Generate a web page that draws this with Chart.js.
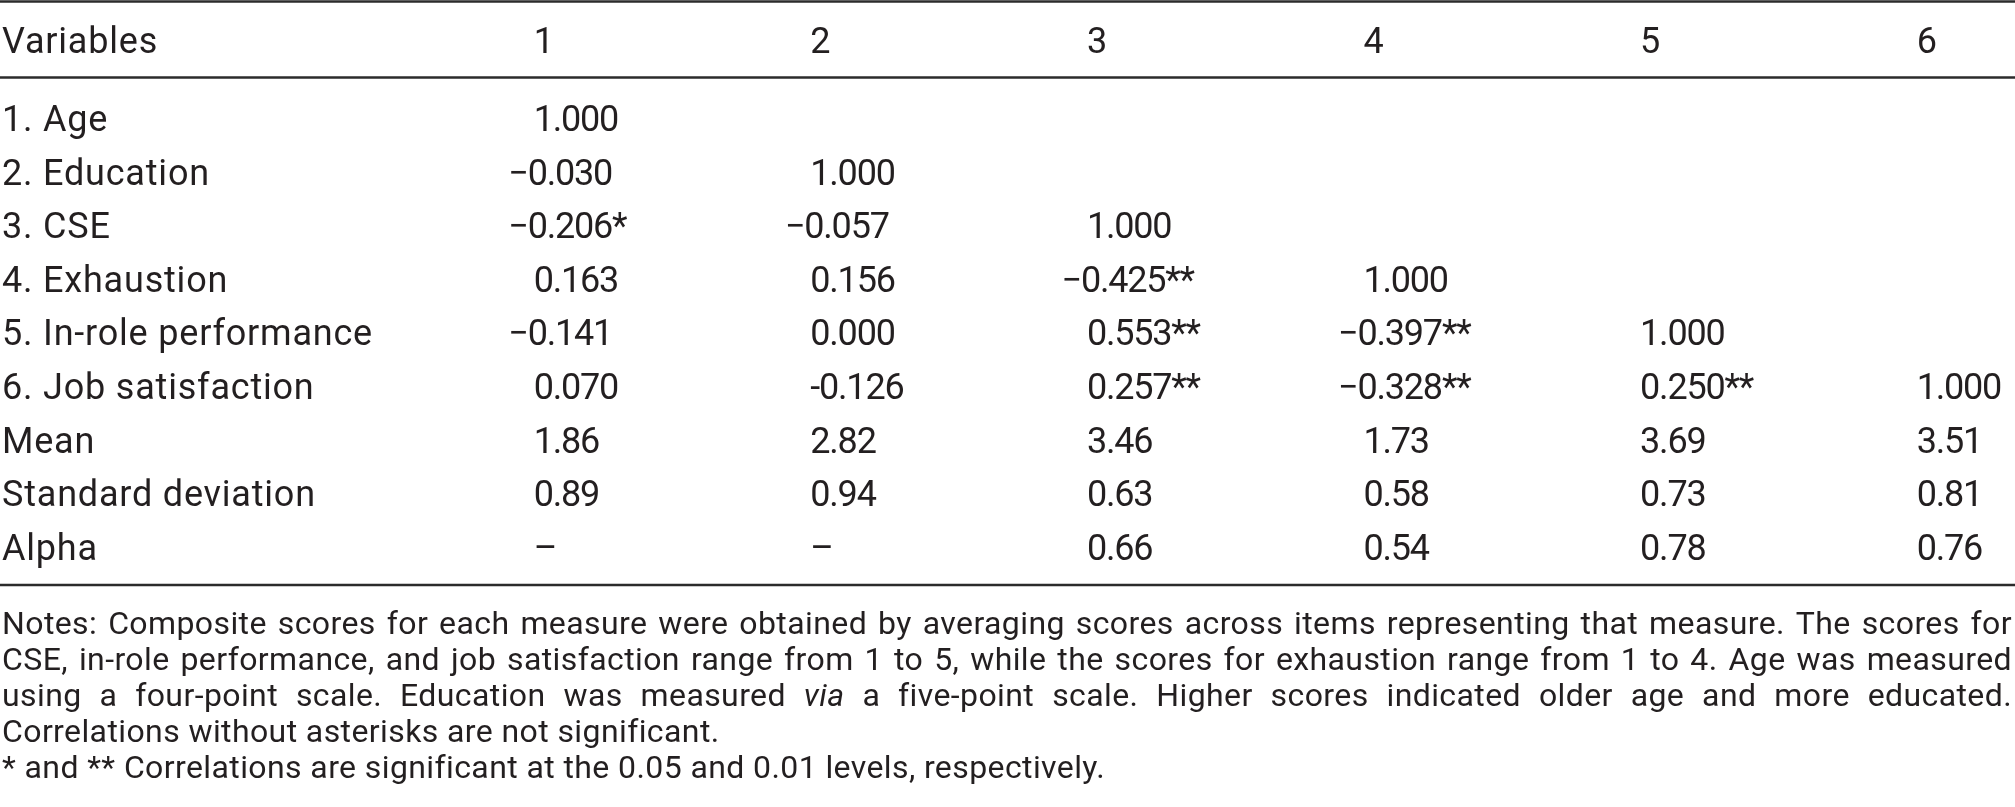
<!DOCTYPE html>
<html>
<head>
<meta charset="utf-8">
<script src="https://cdn.jsdelivr.net/npm/chart.js@4.4.1/dist/chart.umd.min.js"></script>
<style>
  html, body { margin: 0; padding: 0; background: #ffffff; overflow: hidden; }
  #wrap { width: 2015px; height: 807px; position: relative; }
  canvas { display: block; }
</style>
</head>
<body>
<div id="wrap"><canvas id="c" width="2015" height="807"></canvas></div>
<script>
// ---------------- DATA ----------------
const headerLabel = "Variables";
const columnLabels = ["1", "2", "3", "4", "5", "6"];
const variables = ["1. Age", "2. Education", "3. CSE", "4. Exhaustion", "5. In-role performance", "6. Job satisfaction"];
const statLabels = ["Mean", "Standard deviation", "Alpha"];

const rAge = [1.000];
const rEducation = [-0.030, 1.000];
const rCSE = [-0.206, -0.057, 1.000];
const rExhaustion = [0.163, 0.156, -0.425, 1.000];
const rInRole = [-0.141, 0.000, 0.553, -0.397, 1.000];
const rJobSatisfaction = [0.070, -0.126, 0.257, -0.328, 0.250, 1.000];

const starsAge = [""];
const starsEducation = ["", ""];
const starsCSE = ["*", "", ""];
const starsExhaustion = ["", "", "**", ""];
const starsInRole = ["", "", "**", "**", ""];
const starsJobSatisfaction = ["", "", "**", "**", "**", ""];

const means = [1.86, 2.82, 3.46, 1.73, 3.69, 3.51];
const sds = [0.89, 0.94, 0.63, 0.58, 0.73, 0.81];
const alphas = [null, null, 0.66, 0.54, 0.78, 0.76];

// cells printed with a plain hyphen instead of a minus sign in the source: [row, column]
const asciiMinusCells = [[5, 2]];

const noteLines = [
  { text: "Notes: Composite scores for each measure were obtained by averaging scores across items representing that measure. The scores for", justify: true },
  { text: "CSE, in-role performance, and job satisfaction range from 1 to 5, while the scores for exhaustion range from 1 to 4. Age was measured", justify: true },
  { text: "using a four-point scale. Education was measured _via_ a five-point scale. Higher scores indicated older age and more educated.", justify: true },
  { text: "Correlations without asterisks are not significant.", justify: false },
  { text: "* and ** Correlations are significant at the 0.05 and 0.01 levels, respectively.", justify: false }
];

// ---------------- BUILD ----------------
const corrRows = [rAge, rEducation, rCSE, rExhaustion, rInRole, rJobSatisfaction];
const starRows = [starsAge, starsEducation, starsCSE, starsExhaustion, starsInRole, starsJobSatisfaction];
const statRows = [means, sds, alphas];
const rowLabels = variables.concat(statLabels);

function isAscii(r, c) { return asciiMinusCells.some(p => p[0] === r && p[1] === c); }
function fmt(v, d, ascii) {
  if (v === null || v === undefined) return "\u2013";
  const s = Math.abs(v).toFixed(d);
  return v < 0 ? (ascii ? "-" : "\u2212") + s : s;
}

const cellPoints = [];
corrRows.forEach((row, r) => {
  row.forEach((v, c) => {
    cellPoints.push({ x: c + 1, y: r, text: fmt(v, 3, isAscii(r, c + 1)) + starRows[r][c] });
  });
});
statRows.forEach((row, k) => {
  row.forEach((v, c) => {
    cellPoints.push({ x: c + 1, y: variables.length + k, text: fmt(v, 2, false) });
  });
});

const TEXT = "#231f20";
const LABEL_FONT = "36px Roboto";
const NUM_FONT = "36px Roboto";
const NOTE_FONT = "32px Roboto";
const NOTE_ITALIC = "italic 32px Roboto";

const tablePlugin = {
  id: "tableText",
  afterDatasetsDraw(chart, args, o) {
    const { ctx, chartArea, scales } = chart;
    const xs = scales.x, ys = scales.y;
    ctx.save();
    ctx.fillStyle = TEXT;
    ctx.strokeStyle = "#2b2b2b";
    ctx.textBaseline = "alphabetic";
    ctx.textAlign = "left";

    // horizontal rules
    ctx.lineWidth = 2.5;
    const rules = [chartArea.top + 1.5, ys.getPixelForValue(o.headerRule), ys.getPixelForValue(o.bottomRule)];
    rules.forEach(y => {
      ctx.beginPath();
      ctx.moveTo(chartArea.left, y);
      ctx.lineTo(chartArea.right, y);
      ctx.stroke();
    });

    const leftX = chartArea.left + 2;

    // header
    const hy = ys.getPixelForValue(o.headerRow);
    ctx.font = LABEL_FONT;
    ctx.letterSpacing = "0.8px";
    ctx.fillText(headerLabel, leftX, hy);
    ctx.font = NUM_FONT;
    ctx.letterSpacing = "-1.2px";
    columnLabels.forEach((lab, j) => ctx.fillText(lab, xs.getPixelForValue(j + 1), hy));

    // row labels
    ctx.font = LABEL_FONT;
    ctx.letterSpacing = "0.8px";
    rowLabels.forEach((lab, i) => ctx.fillText(lab, leftX, ys.getPixelForValue(i)));

    // cells from dataset elements
    ctx.font = NUM_FONT;
    ctx.letterSpacing = "-1.2px";
    const meta = chart.getDatasetMeta(0);
    const data = chart.data.datasets[0].data;
    meta.data.forEach((pt, k) => {
      const t = data[k].text;
      let x = pt.x;
      if (t.charAt(0) === "\u2212") x -= ctx.measureText("\u2212").width + 6;
      ctx.fillText(t, x, pt.y);
    });

    // notes
    ctx.letterSpacing = "0.4px";
    const right = chartArea.right - 3;
    noteLines.forEach((ln, k) => {
      const y = ys.getPixelForValue(o.noteStart + k * o.noteStep);
      const words = ln.text.split(" ").map(w => {
        const it = /^_.*_$/.test(w);
        return { w: it ? w.slice(1, -1) : w, it };
      });
      words.forEach(wd => { ctx.font = wd.it ? NOTE_ITALIC : NOTE_FONT; wd.width = ctx.measureText(wd.w).width; });
      ctx.font = NOTE_FONT;
      let gap = ctx.measureText(" ").width;
      if (ln.justify && words.length > 1) {
        const sum = words.reduce((a, b) => a + b.width, 0);
        gap = (right - leftX - sum) / (words.length - 1);
      }
      let x = leftX;
      words.forEach(wd => {
        ctx.font = wd.it ? NOTE_ITALIC : NOTE_FONT;
        ctx.fillText(wd.w, x, y);
        x += wd.width + gap;
      });
    });
    ctx.restore();
  }
};

function build() {
  new Chart(document.getElementById("c"), {
    type: "scatter",
    data: {
      datasets: [{
        label: "cells",
        data: cellPoints,
        pointRadius: 0,
        pointHoverRadius: 0,
        showLine: false
      }]
    },
    options: {
      responsive: false,
      devicePixelRatio: 1,
      animation: false,
      events: [],
      layout: { padding: 0 },
      scales: {
        x: { type: "linear", display: false, min: -0.9295, max: 6.3555 },
        y: { type: "linear", display: false, reverse: true, min: -2.444, max: 12.612 }
      },
      plugins: {
        legend: { display: false },
        tooltip: { enabled: false },
        tableText: { headerRow: -1.455, headerRule: -1.0, bottomRule: 8.47, noteStart: 9.384, noteStep: 0.672 }
      }
    },
    plugins: [tablePlugin]
  });
}

if (document.fonts && document.fonts.load) {
  Promise.all([
    document.fonts.load(LABEL_FONT),
    document.fonts.load(NOTE_ITALIC)
  ]).then(build, build);
} else {
  build();
}
</script>
</body>
</html>
